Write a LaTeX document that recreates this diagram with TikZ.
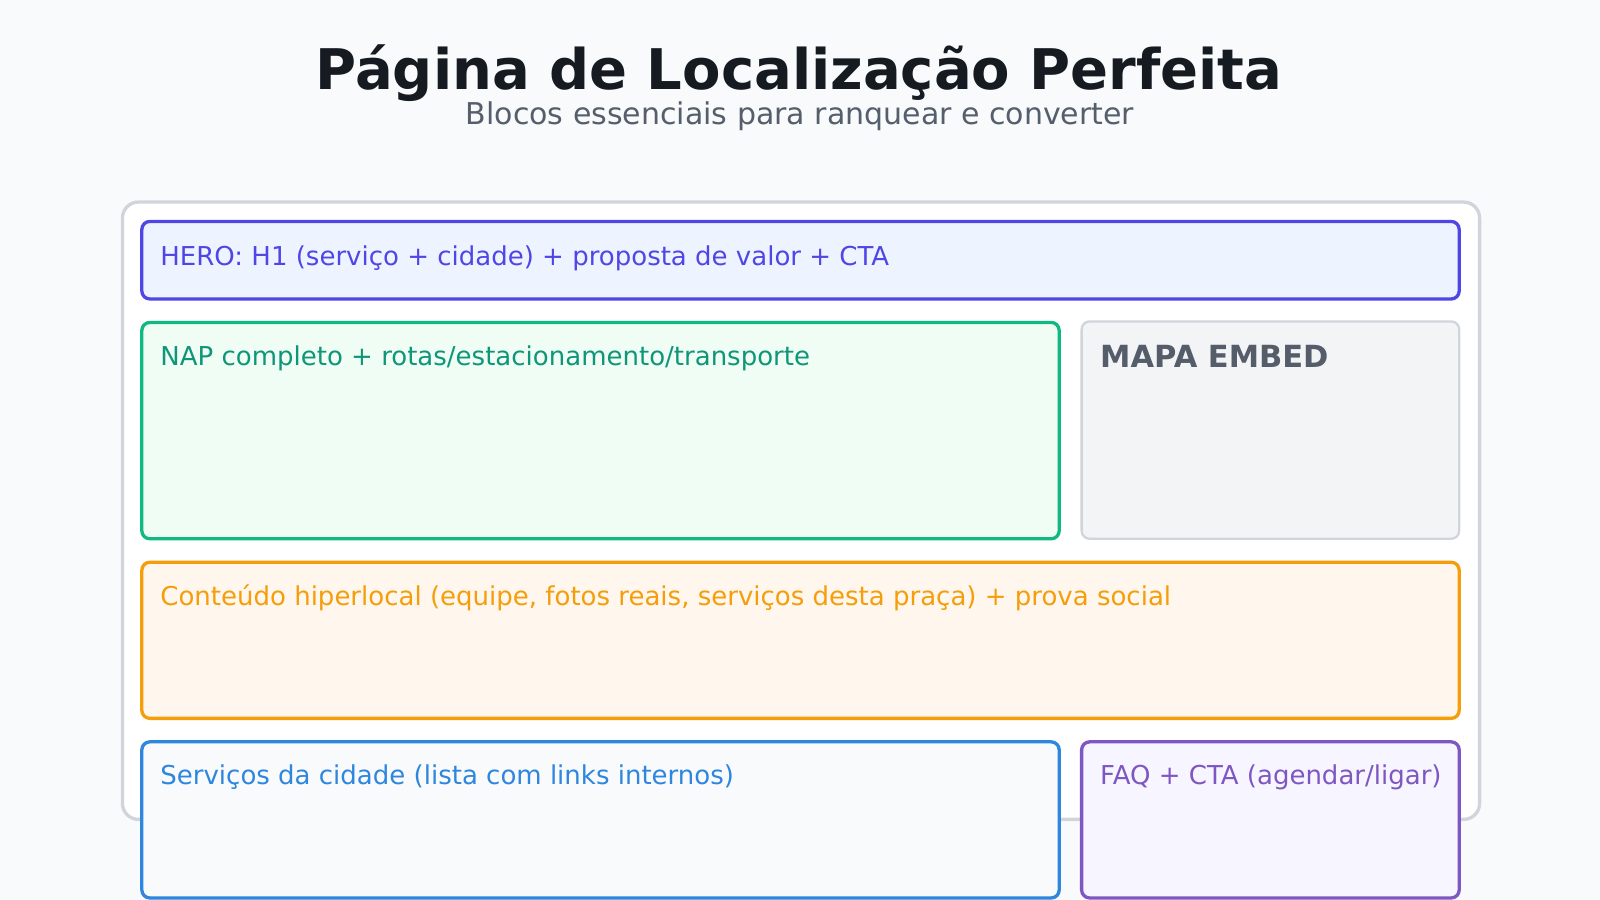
\documentclass[tikz,border=0pt]{standalone}
\usepackage{fontspec}
\setmainfont{DejaVu Sans}
\definecolor{bg}{HTML}{F8FAFC}
\definecolor{outer}{HTML}{D1D5DB}
\definecolor{titlec}{HTML}{161B22}
\definecolor{subc}{HTML}{555E6B}
\definecolor{heroS}{HTML}{4F46E5}
\definecolor{heroF}{HTML}{EEF4FF}
\definecolor{napS}{HTML}{10B981}
\definecolor{napF}{HTML}{EFFDF4}
\definecolor{napT}{HTML}{0F9678}
\definecolor{mapS}{HTML}{D1D5DB}
\definecolor{mapF}{HTML}{F3F4F6}
\definecolor{mapT}{HTML}{555D6B}
\definecolor{conS}{HTML}{F59E0B}
\definecolor{conF}{HTML}{FFF6ED}
\definecolor{serS}{HTML}{2E86DE}
\definecolor{serF}{HTML}{F8FAFC}
\definecolor{faqS}{HTML}{7E57C2}
\definecolor{faqF}{HTML}{F7F5FF}
\tikzset{
  block/.style={rounded corners=8pt, line width=3.3pt},
  lbl/.style={anchor=base west, inner sep=0pt, font=\fontsize{26}{30}\selectfont},
}
\begin{document}
\begin{tikzpicture}[x=1.0204pt,y=-1.0204pt]
\fill[bg] (0,0) rectangle (1568,882);
\useasboundingbox (0,0) rectangle (1568,882);
\node[anchor=base, inner sep=0pt, text=titlec, font=\fontsize{56}{64}\selectfont\bfseries] (title) at (783,88) {Página de Localização Perfeita};
\node[anchor=base, inner sep=0pt, text=subc, font=\fontsize{30}{34}\selectfont] (sub) at (784,122) {Blocos essenciais para ranquear e converter};
\draw[rounded corners=16pt, line width=3.3pt, draw=outer, fill=white] (120,198) rectangle (1450,803);
\draw[block, draw=heroS, fill=heroF] (139,217) rectangle (1430,293);
\node[lbl, text=heroS] (hero) at (157,260) {HERO: H1 (serviço + cidade) + proposta de valor + CTA};
\draw[block, draw=napS, fill=napF] (139,316) rectangle (1038,528);
\node[lbl, text=napT] (nap) at (157,358) {NAP completo + rotas/estacionamento/transporte};
\draw[rounded corners=8pt, line width=2.3pt, draw=mapS, fill=mapF] (1060,315) rectangle (1430,528);
\node[lbl, text=mapT, font=\fontsize{30.5}{34}\selectfont\bfseries] (map) at (1078,360) {MAPA EMBED};
\draw[block, draw=conS, fill=conF] (139,551) rectangle (1430,704);
\node[lbl, text=conS] (con) at (157,593) {Conteúdo hiperlocal (equipe, fotos reais, serviços desta praça) + prova social};
\draw[block, draw=serS, fill=serF] (139,727) rectangle (1038,880);
\node[lbl, text=serS] (ser) at (157,769) {Serviços da cidade (lista com links internos)};
\draw[block, draw=faqS, fill=faqF] (1060,727) rectangle (1430,880);
\node[lbl, text=faqS] (faq) at (1078,769) {FAQ + CTA (agendar/ligar)};
\end{tikzpicture}
\end{document}
